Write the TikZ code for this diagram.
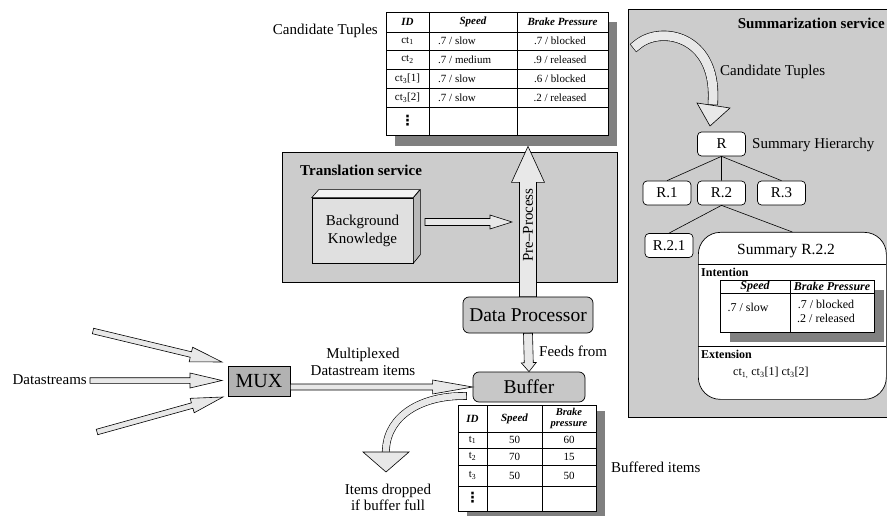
\documentclass[tikz,border=0pt]{standalone}
\usepackage{fontspec}
\setmainfont{Liberation Serif}
\newfontfamily\dejavu{DejaVu Sans}
\usetikzlibrary{calc}
\definecolor{boxgray}{gray}{0.8}
\definecolor{procgray}{gray}{0.78}
\definecolor{muxgray}{gray}{0.7}
\definecolor{arrfill}{gray}{0.91}
\definecolor{shadowgray}{gray}{0.5}
\definecolor{bkfront}{gray}{0.88}
\definecolor{bktop}{gray}{0.95}
\definecolor{bkside}{gray}{0.72}
\newcommand\fsz[1]{\fontsize{#1}{#1}\selectfont}
\newcommand\hollowarrow[6][]{%
  \path (#2) coordinate (haA) (#3) coordinate (haB);
  \path ($(haB)!#6pt!(haA)$) coordinate (haH);
  \draw[harrow,#1] ($(haA)!#4pt!90:(haB)$) -- ($(haH)!#4pt!90:(haB)$)
    -- ($(haH)!#5pt!90:(haB)$) -- (haB) -- ($(haH)!#5pt!-90:(haB)$)
    -- ($(haH)!#4pt!-90:(haB)$) -- ($(haA)!#4pt!-90:(haB)$) -- cycle;}
\tikzset{
  harrow/.style={draw=black, fill=arrfill, line width=0.6pt, line join=miter},
  frame/.style={draw=black, line width=0.7pt},
  lbl/.style={inner sep=0pt, font=\fsz{15}},
  blbl/.style={inner sep=0pt, font=\fsz{15}\bfseries},
  rnode/.style={draw=black, line width=0.7pt, fill=white, rounded corners=4pt, minimum width=48pt, minimum height=24pt, inner sep=0pt, font=\fsz{15}},
  proc/.style={draw=black, line width=0.7pt, fill=procgray, rounded corners=6pt, inner sep=0pt, font=\fsz{19.5}},
  tline/.style={draw=black, line width=0.6pt},
  tcell/.style={inner sep=0pt, font=\fsz{11}},
  tdots/.style={inner sep=0pt, font=\fsz{14}\dejavu\bfseries},
  thead/.style={inner sep=0pt, font=\fsz{11}\bfseries\itshape},
  scell/.style={inner sep=0pt, font=\fsz{12}},
  shead/.style={inner sep=0pt, font=\fsz{12}\bfseries\itshape},
  shadowbox/.style={fill=shadowgray, inner sep=0pt, anchor=north west},
  tabbox/.style={draw=black, line width=0.7pt, fill=white, inner sep=0pt, anchor=north west},
  curvarr/.style={draw=black, line width=0.6pt, double=arrfill, line cap=rect},
}
\begin{document}
\begin{tikzpicture}[x=1pt,y=-1pt]
\useasboundingbox (0,0) rectangle (887,516);
% service boxes
\node[frame, fill=boxgray, anchor=north west, inner sep=0pt, minimum width=335pt, minimum height=130pt] (trans) at (282,152) {};
\node[blbl, anchor=west] (translbl) at (300,170) {Translation service};
\node[frame, fill=boxgray, anchor=north west, inner sep=0pt, minimum width=264pt, minimum height=408pt] (summ) at (628,9) {};
\node[blbl, anchor=east] (summlbl) at (885,23) {Summarization service};
% background knowledge
\node[draw=black, line width=0.6pt, fill=bkfront, minimum width=101pt, minimum height=65pt, inner sep=0pt, align=center, font=\fontsize{15}{18}\selectfont] (bk) at (362.5,230.5) {Background\\Knowledge};
\draw[line width=0.6pt, fill=bktop] (bk.north west) -- ++(7,-8) -- ++(101,0) -- (bk.north east) -- cycle;
\draw[line width=0.6pt, fill=bkside] (bk.north east) -- ++(7,-8) -- ++(0,65) -- (bk.south east) -- cycle;
% candidate table
\node[shadowbox, minimum width=222pt, minimum height=124pt] (ctabsh) at (395,22) {};
\node[tabbox, minimum width=222pt, minimum height=123pt] (ctab) at (386,12) {};
\draw[tline] (429,12) -- (429,135) (517,12) -- (517,135);
\foreach \yy in {32,50,69,88,107} \draw[tline] (386,\yy) -- (608,\yy);
\node[thead] (ch1) at (407.5,22) {ID};
\node[thead] (ch2) at (473,22) {Speed};
\node[thead] (ch3) at (562.5,22) {Brake Pressure};
\node[tcell] (c11) at (407.5,41) {ct\textsubscript{1}};
\node[tcell, anchor=west] (c12) at (438,41) {.7 / slow};
\node[tcell] (c13) at (560,41) {.7 / blocked};
\node[tcell] (c21) at (407.5,59.5) {ct\textsubscript{2}};
\node[tcell, anchor=west] (c22) at (438,59.5) {.7 / medium};
\node[tcell] (c23) at (560,59.5) {.9 / released};
\node[tcell] (c31) at (407.5,78.5) {ct\textsubscript{3}[1]};
\node[tcell, anchor=west] (c32) at (438,78.5) {.7 / slow};
\node[tcell] (c33) at (560,78.5) {.6 / blocked};
\node[tcell] (c41) at (407.5,97.5) {ct\textsubscript{3}[2]};
\node[tcell, anchor=west] (c42) at (438,97.5) {.7 / slow};
\node[tcell] (c43) at (560,97.5) {.2 / released};
\node[tdots] (c51) at (407.5,121) {⋮};
\node[lbl, anchor=east] (ctlbl) at (378,31) {Candidate Tuples};
% processors
\node[proc, minimum width=130pt, minimum height=36pt] (dp) at (528,315) {Data Processor};
\node[proc, minimum width=112pt, minimum height=30pt] (buf) at (529,387) {Buffer};
\node[draw=black, line width=0.7pt, fill=muxgray, minimum width=62pt, minimum height=30pt, inner sep=0pt, font=\fsz{20}] (mux) at (259,381) {MUX};
% straight hollow arrows
\hollowarrow{dp.north}{dp.north |- ctabsh.south}{8.5}{16.5}{36}
\node[lbl, rotate=90] (pptxt) at (528,225) {Pre–Process};
\coordinate (bkfrom) at (425,222);
\coordinate (bkto) at (512,222);
\hollowarrow{bkfrom}{bkto}{3.5}{7}{22}
\hollowarrow{dp.south}{buf.north}{4.5}{7.5}{9}
\node[lbl, anchor=west] (feedlbl) at (539,351) {Feeds from};
\coordinate (ds1a) at (93,331);
\coordinate (ds1b) at (222,362);
\coordinate (ds2a) at (90,380.5);
\coordinate (ds2b) at (222,380.5);
\coordinate (ds3a) at (97,432);
\coordinate (ds3b) at (223,397);
\hollowarrow{ds1a}{ds1b}{2.8}{7.5}{32}
\hollowarrow{ds2a}{ds2b}{2.8}{7.5}{32}
\hollowarrow{ds3a}{ds3b}{2.8}{7.5}{32}
\node[lbl, anchor=east] (dslbl) at (87,380) {Datastreams};
\hollowarrow{mux.east |- buf.west}{buf.west}{3}{7}{40}
\node[lbl, align=center, font=\fontsize{15}{17}\selectfont] (mplbl) at (363,361.5) {Multiplexed\\Datastream items};
% dropped items
\coordinate (dropA) at (463,396);
\draw[curvarr, double distance=6.5pt] (dropA) .. controls (422,396) and (388,415) .. (386,449);
\draw[harrow] (363,452) -- (409,452) -- (386,472) -- cycle;
\node[lbl, align=center, font=\fontsize{15}{16}\selectfont] (droplbl) at (388,497) {Items dropped\\if buffer full};
% buffer table
\node[shadowbox, minimum width=138pt, minimum height=106pt] (btabsh) at (467,411) {};
\node[tabbox, minimum width=138pt, minimum height=106pt] (btab) at (458,405) {};
\draw[tline] (487,405) -- (487,511) (542,405) -- (542,511);
\foreach \yy in {432,448,465,486} \draw[tline] (458,\yy) -- (596,\yy);
\node[thead] (bh1) at (472.5,418.5) {ID};
\node[thead] (bh2) at (514.5,418.5) {Speed};
\node[thead, align=center, font=\fontsize{10.5}{11}\selectfont\bfseries\itshape] (bh3) at (569,418.5) {Brake\\pressure};
\node[tcell] (b11) at (472.5,440) {t\textsubscript{1}};
\node[tcell] (b12) at (514.5,440) {50};
\node[tcell] (b13) at (569,440) {60};
\node[tcell] (b21) at (472.5,456.5) {t\textsubscript{2}};
\node[tcell] (b22) at (514.5,456.5) {70};
\node[tcell] (b23) at (569,456.5) {15};
\node[tcell] (b31) at (472.5,475.5) {t\textsubscript{3}};
\node[tcell] (b32) at (514.5,475.5) {50};
\node[tcell] (b33) at (569,475.5) {50};
\node[tdots] (b41) at (472.5,498) {⋮};
\node[lbl, anchor=west] (bufflbl) at (611,467) {Buffered items};
% summarization content
\draw[curvarr, double distance=9pt] (637,45) .. controls (660,25) and (716,35) .. (713,100);
\draw[harrow] (697,103) -- (730,108) -- (710,126) -- cycle;
\node[lbl, anchor=west] (ctlbl2) at (720,72) {Candidate Tuples};
\node[rnode] (r) at (721.5,144) {R};
\node[rnode] (r1) at (667,193) {R.1};
\node[rnode] (r2) at (721.5,193) {R.2};
\node[rnode] (r3) at (781.5,193) {R.3};
\node[rnode] (r21) at (669,245.5) {R.2.1};
\node[lbl, anchor=west] (shlbl) at (752,145) {Summary Hierarchy};
\node[draw=black, line width=0.7pt, fill=white, rounded corners=22pt, minimum width=188pt, minimum height=167pt, inner sep=0pt, anchor=north west] (r22) at (698,232) {};
\draw[tline] (r.south) -- (r1.north) (r.south) -- (r2.north) (r.south) -- (r3.north);
\draw[tline] (r2.south) -- (r21.north) (r2.south) -- (r22.north);
\node[lbl, font=\fsz{15.5}] (r22t) at (786,251) {Summary R.2.2};
\draw[tline] (698,264) -- (886,264);
\node[inner sep=0pt, font=\fsz{12}\bfseries, anchor=west] (intl) at (701,272) {Intention};
\node[shadowbox, minimum width=154pt, minimum height=52pt] (stabsh) at (730,290) {};
\node[tabbox, minimum width=154pt, minimum height=52pt] (stab) at (720,280) {};
\draw[tline] (720,293) -- (874,293) (790,280) -- (790,332);
\node[shead] (sh1) at (755,286.5) {Speed};
\node[shead] (sh2) at (832,286.5) {Brake Pressure};
\node[scell] (sc1) at (748,307) {.7 / slow};
\node[scell, align=center, font=\fontsize{12}{14}\selectfont] (sc2) at (826,311) {.7 / blocked\\.2 / released};
\draw[tline] (698,346) -- (886,346);
\node[inner sep=0pt, font=\fsz{12}\bfseries, anchor=west] (extl) at (701,354) {Extension};
\node[scell, anchor=west] (extv) at (733,373) {ct\textsubscript{1,} ct\textsubscript{3}[1] ct\textsubscript{3}[2]};
\end{tikzpicture}
\end{document}
